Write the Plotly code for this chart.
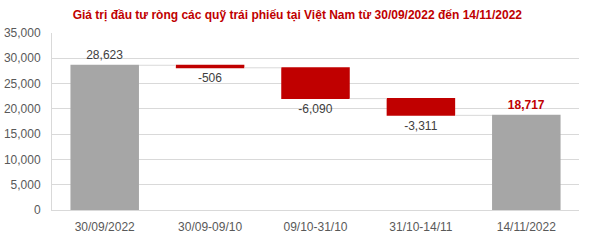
import plotly.graph_objects as go

categories = ["30/09/2022", "30/09-09/10", "09/10-31/10", "31/10-14/11", "14/11/2022"]
values = [28623, -506, -6090, -3311, 18717]
measures = ["absolute", "relative", "relative", "relative", "total"]
labels = ["28,623", "-506", "-6,090", "-3,311", "<b>18,717</b>"]
label_colors = ["#404040", "#404040", "#404040", "#404040", "#C00000"]
y_ticks = [0, 5000, 10000, 15000, 20000, 25000, 30000, 35000]

fig = go.Figure(go.Waterfall(
    x=categories,
    y=values,
    measure=measures,
    text=labels,
    textposition="outside",
    textfont=dict(color=label_colors, size=12, family="Liberation Sans, Arial"),
    cliponaxis=False,
    decreasing=dict(marker=dict(color="#C00000")),
    increasing=dict(marker=dict(color="#C00000")),
    totals=dict(marker=dict(color="#A6A6A6")),
    connector=dict(mode="between", line=dict(color="#D9D9D9", width=1)),
    width=0.65,
))

fig.update_layout(
    width=590, height=241,
    margin=dict(l=52, r=11, t=33, b=31),
    paper_bgcolor="white", plot_bgcolor="white",
    font=dict(family="Liberation Sans, Arial", size=12, color="#595959"),
    showlegend=False,
    title=dict(
        text="<b>Giá trị đầu tư ròng các quỹ trái phiếu tại Việt Nam từ 30/09/2022 đến 14/11/2022</b>",
        x=0.504, xanchor="center", y=0.94, yanchor="middle",
        font=dict(size=12, color="#C00000", family="Liberation Sans, Arial"),
    ),
    xaxis=dict(showgrid=False, showline=True, linecolor="#D9D9D9", ticks="",
               ticklabelstandoff=6, automargin=False,
               tickfont=dict(size=12, color="#595959")),
    yaxis=dict(range=[0, 35000], tickvals=y_ticks, tickformat=",",
               showgrid=True, gridcolor="#D9D9D9", gridwidth=1,
               showline=True, linecolor="#D9D9D9", zeroline=False,
               ticklabelstandoff=8, automargin=False,
               tickfont=dict(size=12, color="#595959"), ticks="", ticklen=0),
)

fig.write_html("out.html")
